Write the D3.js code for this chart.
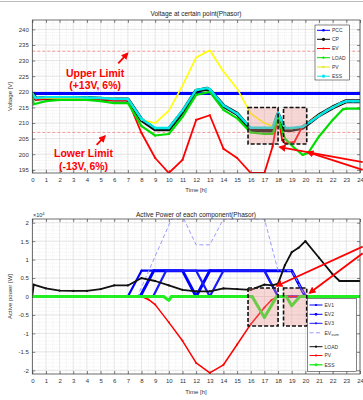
<!DOCTYPE html>
<html>
<head>
<meta charset="utf-8">
<script src="https://cdn.jsdelivr.net/npm/d3@7"></script>
<style>
body { margin: 0; background: #fff; }
svg { display: block; font-family: "Liberation Sans", Arial, sans-serif; }
</style>
</head>
<body>
<svg id="chart" width="363" height="400"></svg>
<script>
// tick values
var hourTicks = d3.range(0, 25);
var voltTicks = [195, 200, 205, 210, 215, 220, 225, 230, 235, 240];
var powerTicks = [-20000, -15000, -10000, -5000, 0, 5000, 10000, 15000, 20000];
var voltLimits = [207, 233];

// voltage at certain point [h, V]
var vPCC = [[0,219.5],[1,219.5],[2,219.5],[3,219.5],[4,219.5],[5,219.5],[6,219.5],[7,219.5],[8,219.5],[9,219.5],[10,219.5],[11,219.5],[12,219.5],
  [13,219.5],[14,219.5],[15,219.5],[16,219.5],[17,219.5],[18,219.5],[19,219.5],[20,219.5],[21,219.5],[22,219.5],[23,219.5],[24,219.5]];
var vCP = [[0,219.5],[0.25,217.8],[1,218],[2,218],[3,218],[4,218],[5,217.8],[6,217.5],[7,217.5],[8,211],[9,208],[10,208],[11,213.5],
  [12,220.3],[12.8,221],[13,220.5],[14,215.5],[15,213],[16,207.8],[17,207.6],[17.6,207.6],[18,212.8],[18.5,207.8],[19,207.8],
  [19.8,208.5],[21,212.5],[22,215],[23,217],[24,217]];
var vEV = [[0,219.5],[0.25,217.5],[1,217.8],[2,217.8],[3,217.8],[4,217.8],[5,217.6],[6,217.3],[7,217.3],[8,206.8],[9,198.8],[10,194],
  [11,198.2],[12,211],[13,212.5],[14,201.8],[15,198.8],[16,194],[17,194],[17.6,202.5],[18,212.5],[18.3,204.5],[18.5,203.6],
  [19.2,204],[19.8,209],[20,209.5],[21,212.5],[22,215],[23,217],[24,217]];
var vLOAD = [[0,219.5],[0.1,216],[1,217],[2,217.4],[3,217.5],[4,217.4],[5,217],[6,216.4],[7,216.4],[8,209],[9,206],[10,206.5],
  [11,212],[12,219],[13,220],[14,214.2],[15,211.5],[16,207],[17,206.5],[17.6,206.5],[18,211.5],[18.5,205],[19.2,202],[19.8,199.8],
  [20.2,200.4],[21,205.7],[22,211],[22.75,214.4],[23,214.6],[24,214.6]];
var vPV = [[0,219.5],[0.25,218],[1,218],[2,218],[3,218],[4,218],[5,218],[6,217.8],[7,217.8],[8,211],[9,210],[10,214],[11,222],
  [12,231],[13,233.3],[14,226.5],[15,221],[16,213],[17,210],[17.6,209],[18,212.8],[18.5,208.3],[19,208.3],[19.8,208.8],
  [21,212.5],[22,215],[23,217],[24,217]];
var vESS = [[0,219.5],[0.25,218],[1,218.3],[2,218.3],[3,218.3],[4,218.2],[5,218],[6,217.7],[7,217.7],[8,211.3],[9,208.4],[10,208.4],
  [11,214],[12,220.6],[12.8,221.2],[13,220.8],[14,215.6],[15,213],[16,208.5],[17,208.5],[17.6,208.5],[18,213.2],[18.5,208.4],
  [19,208.4],[19.8,208.8],[20.4,210.5],[21,212.3],[21.5,213.8],[22,215],[22.5,216.2],[23,217],[23.5,217],[24,217]];

// active power of each component [h, W]
var pEV1 = [[0,0],[1,0],[2,0],[3,0],[4,0],[5,0],[6,0],[7,0],[8,7000],[17,7000],[18,0],[19,0],[20,0],[21,0],[22,0],[23,0],[24,0]];
var pEV2 = [[0,0],[7.9,0],[8.9,7000],[11,7000],[12,0],[13,7000],[19,7000],[20,0],[24,0]];
var pEV3 = [[0,0],[8.85,0],[9.8,7000],[12,7000],[13,0],[14,7000],[17,7000],[18,0],[24,0]];
var pEVsum = [[0,0],[7.7,0],[10.2,21000],[11.1,21000],[12,14000],[13,14000],[14,21000],[17,21000],[18,7000],[19,7000],[20,0],[24,0]];
var pLOAD = [[0,0],[0.1,3200],[1,2200],[2,1600],[3,1500],[4,1500],[5,2000],[6,3000],[7,3000],[8,5000],[9,4200],[10,3000],
  [11,1800],[12,1400],[13,1400],[14,2200],[15,2000],[16,1800],[17,3200],[17.6,3000],[18,3500],[18.5,8500],[19,12000],
  [19.5,13200],[20,15000],[21,10500],[22,6000],[22.5,4200],[23,4200],[24,4200]];
var pPV = [[0,0],[8,0],[8.5,-800],[9,-2200],[10,-7000],[11,-12000],[12,-18000],[13,-20700],[14,-18500],[15,-13000],
  [16,-7500],[17,-3000],[17.5,-1000],[18,0],[19,0],[20,0],[21,0],[22,0],[23,0],[24,0]];
var pESS = [[0,0],[1,0],[2,0],[3,0],[4,0],[5,0],[6,0],[7,0],[8,0],[9,0],[9.6,0],[10,-1000],[10.2,0],[11,0],[12,0],[13,0],[14,0],
  [15,0],[16.1,0],[17,-5700],[17.9,0],[18.6,0],[19,-2500],[19.6,0],[20,0],[21,0],[22,0],[23,0],[24,0]];

// highlighted intervals [h0, h1, lo, hi]
var voltBoxes = [[15.8, 18, 203.3, 215], [18.4, 20.1, 203.3, 215]];
var powerBoxes = [[15.8, 18, -8000, 2300], [18.4, 20.1, -8000, 2300]];

var svg = d3.select("#chart");
var defs = svg.append("defs");

defs.append("marker")
  .attr("id", "arrow")
  .attr("viewBox", "0 0 10 10")
  .attr("refX", 8).attr("refY", 5)
  .attr("markerWidth", 4).attr("markerHeight", 4)
  .attr("orient", "auto")
  .append("path").attr("d", "M0,0L10,5L0,10z").attr("fill", "#ff0000");

svg.append("line").attr("x1", 0).attr("x2", 363).attr("y1", 1.5).attr("y2", 1.5)
  .attr("stroke", "#bbb").attr("stroke-width", 1);

function makePanel(id, top, bottom, yDomain, yTicks, yMinorStep, fmt) {
  var x = d3.scaleLinear().domain([0, 24]).range([32.3, 360]);
  var y = d3.scaleLinear().domain(yDomain).range([bottom, top]);
  var g = svg.append("g");

  defs.append("clipPath").attr("id", id)
    .append("rect").attr("x", x(0)).attr("y", top).attr("width", x(24) - x(0)).attr("height", bottom - top);

  g.append("rect").attr("x", x(0)).attr("y", top).attr("width", x(24) - x(0)).attr("height", bottom - top)
    .attr("fill", "#fff");

  // minor grid
  var xMinor = d3.range(0.5, 24, 1);
  var yMinor = d3.range(Math.ceil(yDomain[0] / yMinorStep) * yMinorStep, yDomain[1], yMinorStep);
  g.append("g").selectAll("line").data(xMinor).enter().append("line")
    .attr("x1", d => x(d)).attr("x2", d => x(d)).attr("y1", top).attr("y2", bottom)
    .attr("stroke", "#e3e3e3").attr("stroke-width", 0.5).attr("stroke-dasharray", "1,1");
  g.append("g").selectAll("line").data(yMinor).enter().append("line")
    .attr("x1", x(0)).attr("x2", x(24)).attr("y1", d => y(d)).attr("y2", d => y(d))
    .attr("stroke", "#e3e3e3").attr("stroke-width", 0.5).attr("stroke-dasharray", "1,1");

  // major grid
  g.append("g").selectAll("line").data(hourTicks).enter().append("line")
    .attr("x1", d => x(d)).attr("x2", d => x(d)).attr("y1", top).attr("y2", bottom)
    .attr("stroke", "#d6d6d6").attr("stroke-width", 0.6);
  g.append("g").selectAll("line").data(yTicks).enter().append("line")
    .attr("x1", x(0)).attr("x2", x(24)).attr("y1", d => y(d)).attr("y2", d => y(d))
    .attr("stroke", "#d6d6d6").attr("stroke-width", 0.6);

  var axes = svg.append("g").attr("class", "axes");
  axes.append("g").attr("transform", "translate(0," + bottom + ")")
    .call(d3.axisBottom(x).tickValues(hourTicks).tickSize(-3).tickPadding(4.5));
  axes.append("g").attr("transform", "translate(0," + top + ")")
    .call(d3.axisTop(x).tickValues(hourTicks).tickSize(-3).tickFormat(""));
  axes.append("g").attr("transform", "translate(" + x(0) + ",0)")
    .call(d3.axisLeft(y).tickValues(yTicks).tickSize(-3).tickPadding(3.5).tickFormat(fmt));
  axes.append("g").attr("transform", "translate(" + x(24) + ",0)")
    .call(d3.axisRight(y).tickValues(yTicks).tickSize(-3).tickFormat(""));
  axes.selectAll(".domain").remove();
  axes.selectAll(".tick line").attr("stroke", "#333").attr("stroke-width", 0.6);
  axes.selectAll(".tick text").attr("font-size", 6).attr("fill", "#333").attr("font-family", "Liberation Sans, Arial, sans-serif");

  var border = svg.append("rect").attr("x", x(0)).attr("y", top).attr("width", x(24) - x(0)).attr("height", bottom - top)
    .attr("fill", "none").attr("stroke", "#333").attr("stroke-width", 0.7);

  var plot = svg.append("g").attr("clip-path", "url(#" + id + ")");
  border.raise();
  return { x: x, y: y, plot: plot, top: top, bottom: bottom };
}

function drawSeries(p, data, color, width, r, dash) {
  var line = d3.line().x(d => p.x(d[0])).y(d => p.y(d[1]));
  p.plot.append("path").datum(data)
    .attr("d", line).attr("fill", "none")
    .attr("stroke", color).attr("stroke-width", width)
    .attr("stroke-linejoin", "round")
    .attr("stroke-dasharray", dash || null);
  if (r > 0) {
    p.plot.append("g").selectAll("circle").data(data).enter().append("circle")
      .attr("cx", d => p.x(d[0])).attr("cy", d => p.y(d[1])).attr("r", r)
      .attr("fill", color);
  }
}

function drawBoxes(p, boxes) {
  svg.append("g").selectAll("rect").data(boxes).enter().append("rect")
    .attr("x", d => p.x(d[0])).attr("y", d => p.y(d[3]))
    .attr("width", d => p.x(d[1]) - p.x(d[0])).attr("height", d => p.y(d[2]) - p.y(d[3]))
    .attr("fill", "rgba(235,140,140,0.35)")
    .attr("stroke", "#111").attr("stroke-width", 1.6).attr("stroke-dasharray", "4,2");
}

function arrow(p, from, to) {
  svg.append("line")
    .attr("x1", p.x(from[0])).attr("y1", p.y(from[1]))
    .attr("x2", p.x(to[0])).attr("y2", p.y(to[1]))
    .attr("stroke", "#ff0000").attr("stroke-width", 1.8)
    .attr("marker-end", "url(#arrow)");
}

function legend(items, left, top, w, h, rows) {
  var lg = svg.append("g");
  lg.append("rect").attr("x", left).attr("y", top).attr("width", w).attr("height", h)
    .attr("fill", "#fff").attr("stroke", "#333").attr("stroke-width", 0.6);
  items.forEach(function (it, i) {
    var yy = rows[i];
    lg.append("line").attr("x1", left + 2).attr("x2", left + 15).attr("y1", yy).attr("y2", yy)
      .attr("stroke", it.color).attr("stroke-width", it.w).attr("stroke-dasharray", it.dash || null);
    if (it.r) lg.append("circle").attr("cx", left + 8.5).attr("cy", yy).attr("r", it.r).attr("fill", it.color);
    var t = lg.append("text").attr("x", left + 17).attr("y", yy + 1.8).attr("font-size", 5).attr("fill", "#333");
    t.append("tspan").text(it.name);
    if (it.sub) t.append("tspan").attr("font-size", 4).attr("dy", 1.2).text(it.sub);
  });
}

// ---------- top: voltage ----------
var pv = makePanel("clipV", 20, 173, [194, 243], voltTicks, 1, d => d);

pv.plot.selectAll(".lim").data(voltLimits).enter().append("line")
  .attr("x1", pv.x(0)).attr("x2", pv.x(24)).attr("y1", d => pv.y(d)).attr("y2", d => pv.y(d))
  .attr("stroke", "#f08080").attr("stroke-width", 0.8).attr("stroke-dasharray", "3,2");

drawSeries(pv, vPCC, "#0000ff", 3, 1.6);
drawSeries(pv, vCP, "#111", 4, 0);
drawSeries(pv, vEV, "#ff0000", 1.8, 1.1);
drawSeries(pv, vLOAD, "#00dd00", 2.2, 1.1);
drawSeries(pv, vPV, "#ffff00", 1.6, 0);
drawSeries(pv, vESS, "#00e8e8", 2.4, 1.3);

svg.append("text").attr("x", 196).attr("y", 16.3).attr("text-anchor", "middle")
  .attr("font-size", 6.5).attr("fill", "#222").text("Voltage at certain point(Phasor)");
svg.append("text").attr("x", 196).attr("y", 192.3).attr("text-anchor", "middle")
  .attr("font-size", 6).attr("fill", "#333").text("Time [h]");
svg.append("text").attr("transform", "translate(12,96.5) rotate(-90)").attr("text-anchor", "middle")
  .attr("font-size", 6).attr("fill", "#333").text("Voltage [V]");

legend([
  { name: "PCC", color: "#0000ff", w: 1, r: 1.3 },
  { name: "CP", color: "#111", w: 1, r: 1.6 },
  { name: "EV", color: "#ff0000", w: 1, r: 1.1 },
  { name: "LOAD", color: "#00dd00", w: 1, r: 1.1 },
  { name: "PV", color: "#e8e800", w: 1, r: 1.1 },
  { name: "ESS", color: "#00e8e8", w: 1, r: 1.6 }
], 315, 25, 34.5, 55, [30.3, 39.3, 48.5, 57.7, 67, 76.2]);

drawBoxes(pv, voltBoxes);

var redText = function (tx, ty, s) {
  svg.append("text").attr("x", pv.x(tx)).attr("y", pv.y(ty)).attr("text-anchor", "middle")
    .attr("font-size", 10.5).attr("font-weight", "bold").attr("fill", "#ff0000").text(s);
};
redText(4.6, 224.9, "Upper Limit");
redText(4.6, 221.0, "(+13V, 6%)");
redText(3.75, 199.1, "Lower Limit");
redText(3.75, 195.1, "(-13V, 6%)");
arrow(pv, [6.29, 229.1], [6.98, 232.3]);
arrow(pv, [4.71, 203], [5.32, 205.8]);
arrow(pv, [24.2, 197.5], [18.12, 202.3]);
arrow(pv, [24.2, 195.0], [20.17, 200.7]);

// ---------- bottom: active power ----------
var pp = makePanel("clipP", 219, 374, [-21000, 21000], powerTicks, 1000, d => String(d / 1e4));

drawSeries(pp, pEV1, "#0000ff", 2.2, 1.1);
drawSeries(pp, pEV2, "#0000ff", 3, 1.3);
drawSeries(pp, pEV3, "#1a1aff", 2.2, 1.1);
drawSeries(pp, pEVsum, "#9b9bff", 1, 0, "4,2.5");
drawSeries(pp, pLOAD, "#111", 1.8, 1.1);
drawSeries(pp, pPV, "#ff0000", 1.5, 1);
drawSeries(pp, pESS, "#22ee22", 3, 1.4);

svg.append("text").attr("x", 196).attr("y", 216.5).attr("text-anchor", "middle")
  .attr("font-size", 6.5).attr("fill", "#222").text("Active Power of each component(Phasor)");
var sci = svg.append("text").attr("x", 33).attr("y", 217).attr("font-size", 5.5).attr("fill", "#333");
sci.append("tspan").text("\u00d710");
sci.append("tspan").attr("font-size", 4.2).attr("dy", -2.2).text("4");
svg.append("text").attr("x", 196).attr("y", 394.3).attr("text-anchor", "middle")
  .attr("font-size", 6).attr("fill", "#333").text("Time [h]");
svg.append("text").attr("transform", "translate(12,296.5) rotate(-90)").attr("text-anchor", "middle")
  .attr("font-size", 6).attr("fill", "#333").text("Active power [W]");

drawBoxes(pp, powerBoxes);

legend([
  { name: "EV1", color: "#0000ff", w: 1, r: 1.1 },
  { name: "EV2", color: "#0000ff", w: 1, r: 1.4 },
  { name: "EV3", color: "#1a1aff", w: 1, r: 1.1 },
  { name: "EV", sub: "sum", color: "#9b9bff", w: 1, dash: "4,2.5" },
  { name: "LOAD", color: "#111", w: 1, r: 1.1 },
  { name: "PV", color: "#ff0000", w: 1, r: 1.1 },
  { name: "ESS", color: "#22ee22", w: 1.4, r: 1.5 }
], 307.5, 298.5, 49, 73, [305, 314.3, 323.3, 332.8, 346.7, 355.5, 364.8]);

arrow(pp, [24.2, 13500], [17.9, 2850]);
arrow(pp, [24.2, 11700], [20.31, 950]);
</script>
</body>
</html>
